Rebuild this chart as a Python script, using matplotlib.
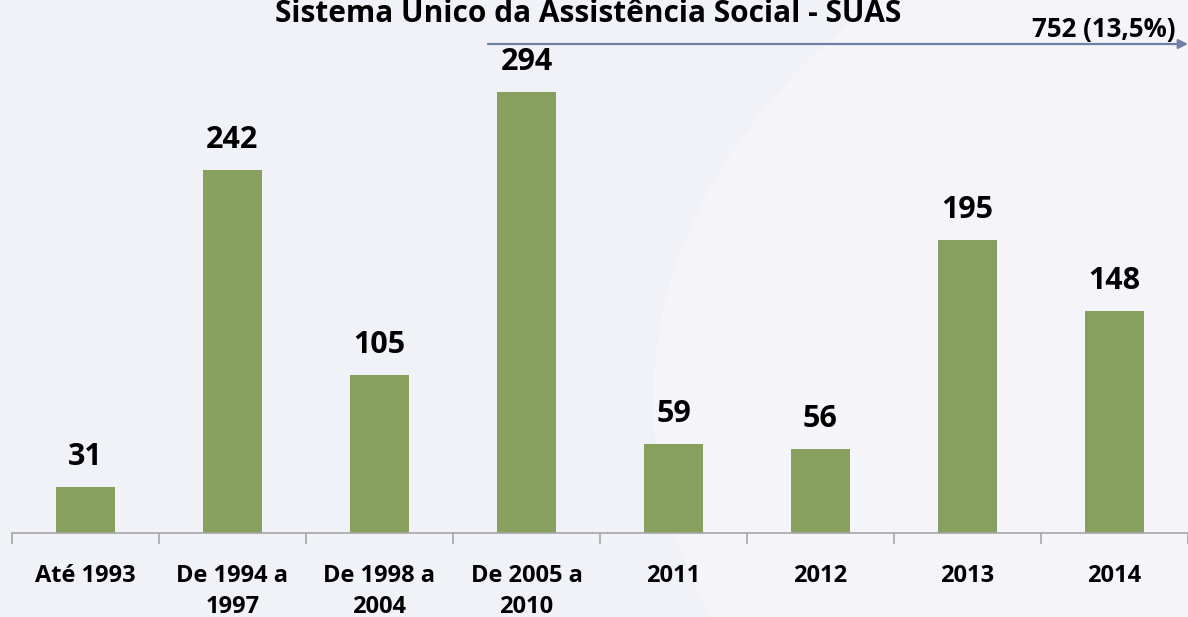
import numpy as np
import matplotlib.pyplot as plt
from matplotlib.patches import Ellipse

plt.rcParams['font.family'] = ['Open Sans', 'DejaVu Sans']

categorias = ['Até 1993', 'De 1994 a\n1997', 'De 1998 a\n2004', 'De 2005 a\n2010',
              '2011', '2012', '2013', '2014']
valores = [31, 242, 105, 294, 59, 56, 195, 148]
titulo = 'Sistema Único da Assistência Social - SUAS'
total_label = '752 (13,5%)'

bg = '#f1f2f7'
fig = plt.figure(figsize=(11.88, 6.17), dpi=100, facecolor=bg)

# faint swoosh in background
bg_ax = fig.add_axes([0, 0, 1, 1], zorder=0)
bg_ax.set_xlim(0, 1)
bg_ax.set_ylim(0, 1)
bg_ax.axis('off')
bg_ax.add_patch(Ellipse((1.25, 0.35), 1.4, 1.9, facecolor='#f4f4f9', edgecolor='none'))

ax = fig.add_axes([0.0101, 0.136, 0.9899, 0.864], zorder=1)
ax.patch.set_alpha(0)

x = np.arange(len(valores))
bars = ax.bar(x, valores, width=0.4, color='#87a05e', zorder=2)
for xi, v in zip(x, valores):
    ax.text(xi, v + 10, str(v), ha='center', va='bottom', fontsize=22,
            fontweight='bold', color='black')

ax.set_xlim(-0.5, len(valores) - 0.5)
ax.set_ylim(0, 355)

for s in ['left', 'right', 'top']:
    ax.spines[s].set_visible(False)
ax.spines['bottom'].set_color('#a6a6a6')
ax.spines['bottom'].set_linewidth(1.2)
ax.set_yticks([])

ax.set_xticks(x)
ax.set_xticklabels(categorias, fontsize=17, fontweight='bold', linespacing=1.4)
ax.tick_params(axis='x', which='major', length=0, pad=22)
ax.set_xticks(np.arange(-0.5, len(valores)), minor=True)
ax.tick_params(axis='x', which='minor', length=8, color='#a6a6a6', width=1.2)

fig.text(0.495, 1 - 22 / 617, titulo, ha='center', va='baseline', fontsize=21.5,
         fontweight='bold', color='black')

# arrow with total
ax_arrow = fig.add_axes([0, 0, 1, 1], zorder=3)
ax_arrow.set_xlim(0, 1188)
ax_arrow.set_ylim(617, 0)
ax_arrow.axis('off')
ax_arrow.annotate('', xy=(1188, 44), xytext=(488, 44),
                  arrowprops=dict(arrowstyle='-|>', color='#6f7fa6', lw=1.6,
                                  mutation_scale=14, shrinkA=0, shrinkB=0))
ax_arrow.text(1176, 37, total_label, ha='right', va='baseline', fontsize=18.5,
              fontweight='bold', color='black')

fig.savefig('out.png', dpi=100, facecolor=bg)
